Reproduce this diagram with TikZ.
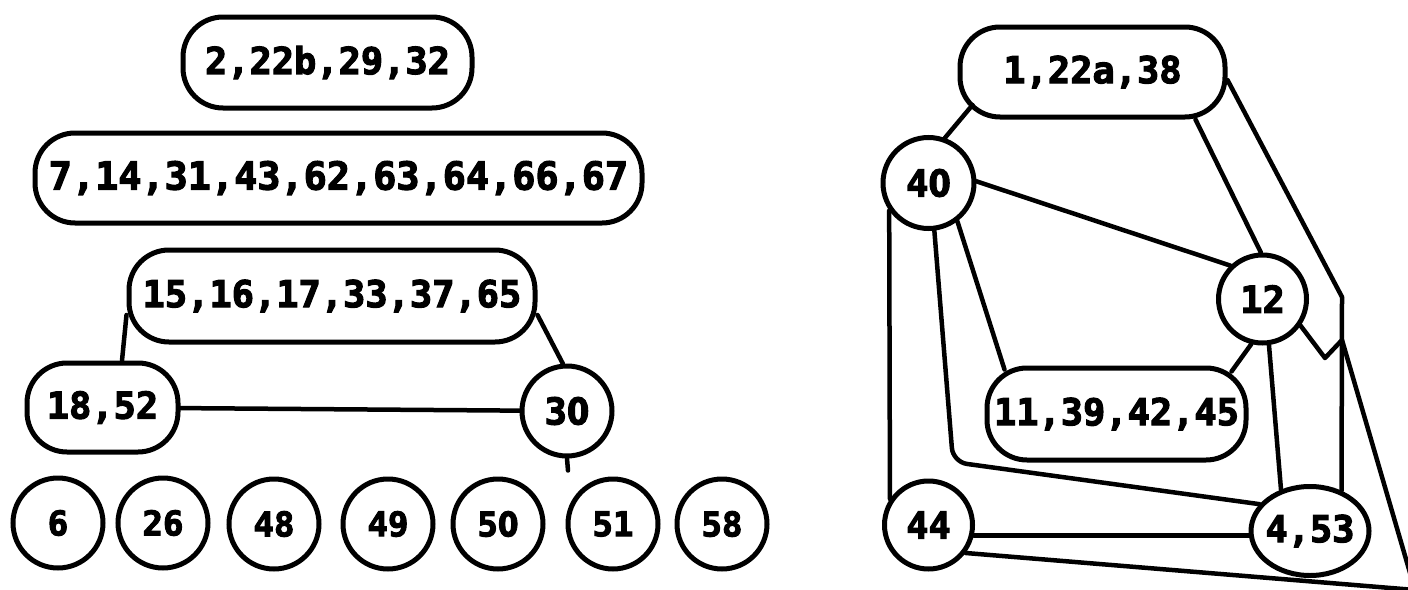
\documentclass[tikz,border=0pt]{standalone}
\usepackage{fontspec}
\newfontfamily\graphfont{DejaVu Sans Mono}[BoldFeatures={FakeBold=3}]
\newfontfamily\zerofont{DejaVu Sans}[BoldFeatures={FakeBold=3}]
% plain (unslashed) zero, squeezed to the monospaced advance
\newcommand\zr{{\zerofont\bfseries\scalebox{0.87}[1]{0}}}
\usetikzlibrary{shapes.geometric}
\begin{document}
\begin{tikzpicture}[x=1pt, y=-1pt, line width=5pt,
  every node/.style={inner sep=0pt, font=\graphfont\bfseries\fontsize{37}{40}\selectfont},
  setbox/.style={draw, rectangle, rounded corners=40pt},
  single/.style={draw, circle},
  small/.style={font=\graphfont\bfseries\fontsize{34}{36}\selectfont},
  wide/.style={font=\graphfont\bfseries\fontsize{38.5}{40}\selectfont},
  edge/.style={line width=4.5pt, line join=round, line cap=round}]
\path[use as bounding box, fill=white] (0,0) rectangle (1408,589);
\clip (0,0) rectangle (1408,589);

% ---- left group ----
\node[setbox, minimum width=289pt, minimum height=91pt] (A) at (327.5,62.5) {\raisebox{-5pt}{2,22b,29,32}};
\node[setbox, wide, minimum width=607pt, minimum height=90pt] (B) at (338.5,178) {\raisebox{-5pt}{7,14,31,43,62,63,64,66,67}};
\node[setbox, minimum width=406pt, minimum height=92pt] (C) at (332,296) {15,16,17,33,37,65};
\node[setbox, minimum width=151pt, minimum height=89pt] (D) at (102.5,407.5) {18,52};
\node[single, minimum size=90pt] (E) at (567,411) {3\zr};

\node[single, small, minimum size=90pt] (n6)  at (58,523)  {6};
\node[single, small, minimum size=90pt] (n26) at (163,523) {26};
\node[single, small, minimum size=90pt] (n48) at (274,524) {48};
\node[single, small, minimum size=90pt] (n49) at (388,524) {49};
\node[single, small, minimum size=90pt] (n50) at (498,524) {5\zr};
\node[single, small, minimum size=90pt] (n51) at (613,524) {51};
\node[single, small, minimum size=90pt] (n58) at (722,524) {58};

\draw[edge] ([yshift=-19pt]C.west) -- ([xshift=19.5pt]D.north);
\draw[edge] ([yshift=-19pt]C.east) -- (E.95);
\draw[edge] (D) -- (E);
\draw[edge] (E.south) -- +(1,12);

% ---- right group ----
\node[setbox, minimum width=265pt, minimum height=90pt] (F) at (1092.5,72) {1,22a,38};
\node[single, minimum size=91pt] (G) at (928.5,183) {4\zr};
\node[single, minimum size=88pt] (H) at (1262.5,299) {12};
\node[setbox, minimum width=259pt, minimum height=92pt] (I) at (1116.5,414) {11,39,42,45};
\node[single, minimum size=88pt] (J) at (928.5,525) {44};
\node[draw, ellipse, minimum width=118pt, minimum height=89pt] (K) at (1310,531) {\makebox[0pt]{4,53}};

\coordinate (fk) at (1342,297);
\coordinate (gk) at (953,462);
\coordinate (hz1) at (1325,358);
\coordinate (hz2) at (1342,340);
\coordinate (corner) at (1415,590);

\draw[edge] ([xshift=15pt,yshift=-33pt]F.west) -- (G.70);
\draw[edge] (G.2) -- (H.134);
\draw[edge] ([xshift=103pt]F.south) -- (H.92);
\draw[edge] ([yshift=-8pt]F.east) -- (fk) -- (K.52);
\draw[edge] (G.215) -- (J.146);
\draw[edge, rounded corners=14pt] (G.-83) -- (gk) -- (K.152);
\draw[edge] (G.-53) -- ([xshift=20pt,yshift=-4pt]I.north west);
\draw[edge] ([xshift=-17pt,yshift=-6pt]I.north east) -- (H.-104);
\draw[edge] (H.-82) -- (K.125);
\draw[edge] (J.-13) -- (J.-13 -| K.west);
\draw[edge] (H.-35) -- (hz1) -- (hz2) -- (corner) -- (J.-37);
\end{tikzpicture}
\end{document}
